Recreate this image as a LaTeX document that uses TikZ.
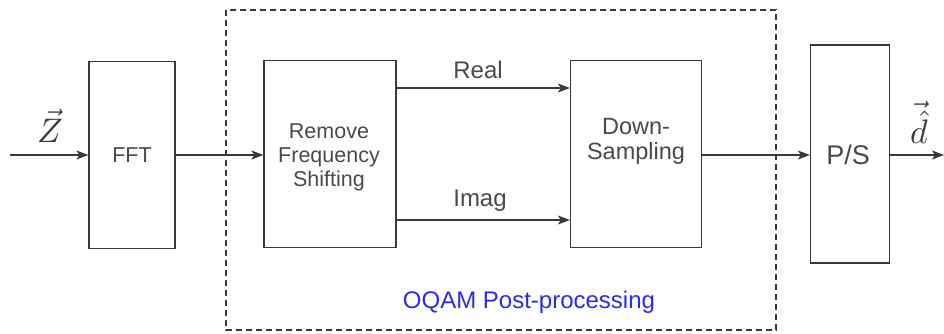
\documentclass[tikz,border=0pt]{standalone}
\usepackage{fontspec}
\setmainfont{Liberation Sans}
\usetikzlibrary{arrows.meta}
\definecolor{ink}{HTML}{3A3A3A}
\definecolor{txt}{HTML}{4A4A4A}
\definecolor{oqam}{HTML}{2B2BF0}
\begin{document}
\begin{tikzpicture}[x=1pt,y=-1pt,
  blockbox/.style={draw=ink,line width=1.2pt,inner sep=0pt},
  blocktext/.style={text=txt,align=center,inner sep=0pt,font=\fontsize{21.5}{24}\selectfont},
  flow/.style={draw=ink,line width=1.2pt,-{Stealth[length=12pt,width=9pt,inset=3pt]}},
  lbl/.style={text=txt,font=\fontsize{24}{26}\selectfont},
  sym/.style={text=ink,inner sep=0pt}]
\useasboundingbox (0,0) rectangle (944,333);
% dashed frame around the post-processing stage
\draw[ink,line width=1.1pt,dash pattern=on 6pt off 4pt] (226,10) rectangle (776,330);
\node[text=oqam,font=\fontsize{24}{26}\selectfont] (cap) at (529,302) {OQAM Post-processing};
% blocks
\node[blockbox,minimum width=86pt,minimum height=187pt] (fft) at (132,155) {};
\node[blockbox,minimum width=132pt,minimum height=187pt] (rfs) at (330,154) {};
\node[blockbox,minimum width=131pt,minimum height=187pt] (ds) at (636,154) {};
\node[blockbox,minimum width=79pt,minimum height=218pt] (ps) at (850,154) {};
% block captions
\node[blocktext] (tfft) at (fft.center) {FFT};
\node[blocktext,font=\fontsize{21.5}{24}\selectfont] (trfs) at (329,157) {Remove\\Frequency\\Shifting};
\node[blocktext,font=\fontsize{23.5}{25}\selectfont] (tds) at (636,141) {Down-\\Sampling};
\node[blocktext,font=\fontsize{27}{30}\selectfont] (tps) at (848,155) {P/S};
% free ends
\coordinate (in) at (10,155);
\coordinate (out) at (944,155);
% connectors
\draw[flow] (in) -- (fft.west |- in);
\draw[flow] (fft.east |- in) -- (rfs.west |- in);
\draw[flow] (rfs.east |- 0,88) -- (ds.west |- 0,88);
\draw[flow] (rfs.east |- 0,220) -- (ds.west |- 0,220);
\draw[flow] (ds.east |- in) -- (ps.west |- in);
\draw[flow] (ps.east |- out) -- (out);
% labels
\node[lbl] (re) at (478,70) {Real};
\node[lbl] (im) at (480,201) {Imag};
\node[sym] (z) at (50,126) {\scalebox{3.4}{$\vec{Z}$}};
\node[sym] (d) at (919,122) {\scalebox{3.4}{$\vec{\hat{d}}$}};
\end{tikzpicture}
\end{document}
